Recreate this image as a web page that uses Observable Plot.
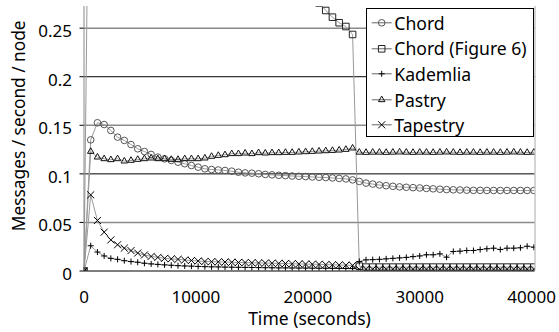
<!DOCTYPE html>
<html><head><meta charset="utf-8">
<script src="https://cdn.jsdelivr.net/npm/d3@7"></script>
<script src="https://cdn.jsdelivr.net/npm/@observablehq/plot@0.6"></script>
<style>
body{margin:0;background:#fff;}
#wrap{position:relative;width:559px;height:332px;font-family:"Noto Sans",sans-serif;}
#legend{position:absolute;left:366px;top:8px;width:168px;height:129px;border:1px solid #000;background:#fff;box-sizing:border-box;padding-top:1px;}
#legend .row{display:flex;align-items:center;height:25.6px;}
#legend span{font-size:17.6px;line-height:20px;margin-left:1.3px;color:#000;white-space:nowrap;}
#legend svg{display:block;}
</style></head><body><div id="wrap"></div><script>
const times = [0,600,1200,1800,2400,3000,3600,4200,4800,5400,
 6000,6600,7200,7800,8400,9000,9600,10200,10800,11400,
 12000,12600,13200,13800,14400,15000,15600,16200,16800,17400,
 18000,18600,19200,19800,20400,21000,21600,22200,22800,23400,
 24000,24600,25200,25800,26400,27000,27600,28200,28800,29400,
 30000,30600,31200,31800,32400,33000,33600,34200,34800,35400,
 36000,36600,37200,37800,38400,39000,39600,40200];

const chord = [0,0.135,0.1526,0.1508,0.1447,0.1378,0.1344,0.1302,0.1258,0.123,
 0.12,0.1172,0.1155,0.1138,0.112,0.1104,0.1086,0.1069,0.1052,0.1045,
 0.104,0.1035,0.1028,0.1017,0.101,0.1007,0.1001,0.0994,0.099,0.0985,
 0.0982,0.0978,0.0975,0.0972,0.0968,0.0965,0.0962,0.0958,0.0953,0.0948,
 0.0938,0.0922,0.0905,0.0895,0.0885,0.0878,0.0872,0.0866,0.0862,0.0858,
 0.0855,0.085,0.0846,0.0842,0.0838,0.0836,0.0834,0.0832,0.083,0.083,
 0.0829,0.0829,0.0829,0.0829,0.0829,0.0829,0.0829,0.0829];

const chordFig6 = [0,0.62,0.6,0.58,0.56,0.54,0.52,0.5,0.48,0.47,
 0.46,0.45,0.44,0.43,0.42,0.41,0.4,0.39,0.38,0.37,
 0.36,0.35,0.345,0.34,0.335,0.33,0.325,0.32,0.315,0.31,
 0.305,0.3,0.295,0.29,0.285,0.276,0.2682,0.2613,0.2556,0.2517,
 0.2435,0.005,0.004,0.004,0.004,0.004,0.004,0.004,0.004,0.004,
 0.004,0.004,0.004,0.004,0.004,0.004,0.004,0.004,0.004,0.004,
 0.004,0.004,0.004,0.004,0.004,0.004,0.004,0.004];

const kademlia = [0,0.026,0.0195,0.0155,0.013,0.012,0.0106,0.0097,0.009,0.008,
 0.0073,0.0068,0.0063,0.0059,0.0055,0.0052,0.005,0.0047,0.0045,0.0043,
 0.0042,0.004,0.0039,0.0038,0.0037,0.0036,0.0035,0.0034,0.0033,0.0032,
 0.0032,0.0031,0.003,0.003,0.0029,0.0028,0.0028,0.0027,0.0027,0.0026,
 0.0025,0.0098,0.0115,0.0117,0.012,0.0125,0.013,0.0135,0.014,0.0148,
 0.0155,0.0167,0.0167,0.0177,0.0142,0.0201,0.0204,0.0211,0.0211,0.0221,
 0.0229,0.0235,0.0221,0.0235,0.0235,0.0239,0.0255,0.0245];

const pastry = [0,0.123,0.1172,0.1155,0.1145,0.1155,0.1131,0.1138,0.1148,0.1155,
 0.1162,0.1155,0.1155,0.1148,0.1148,0.1155,0.1155,0.1155,0.1162,0.1179,
 0.1189,0.1196,0.1207,0.1207,0.1213,0.1207,0.1217,0.1213,0.1217,0.1217,
 0.122,0.122,0.1224,0.1227,0.123,0.1234,0.1237,0.124,0.1244,0.1251,
 0.1265,0.1222,0.122,0.1222,0.1222,0.122,0.1222,0.1224,0.1222,0.122,
 0.1222,0.1222,0.122,0.1222,0.1224,0.1222,0.122,0.1222,0.1222,0.122,
 0.1222,0.1222,0.122,0.1222,0.1224,0.1222,0.122,0.1222];

const tapestry = [0,0.0784,0.052,0.04,0.032,0.027,0.0235,0.021,0.0185,0.0165,
 0.015,0.014,0.013,0.0125,0.012,0.0113,0.0108,0.0103,0.0098,0.0096,
 0.0094,0.0092,0.009,0.0088,0.0087,0.0085,0.0083,0.0082,0.008,0.0078,
 0.0077,0.0075,0.0073,0.0071,0.007,0.0068,0.0066,0.0064,0.0062,0.006,
 0.0058,0.0018,0.0018,0.0018,0.0018,0.0018,0.0018,0.0018,0.0018,0.0018,
 0.0018,0.0018,0.0018,0.0018,0.0018,0.0018,0.0018,0.0018,0.0018,0.0018,
 0.0018,0.0018,0.0018,0.0018,0.0018,0.0018,0.0018,0.0018];

const seriesNames = ["Chord","Chord (Figure 6)","Kademlia","Pastry","Tapestry"];
const xTicks = [0,10000,20000,30000,40000];
const yTicks = [0,0.05,0.1,0.15,0.2,0.25];
const gridGray = [0.05,0.15,0.25];
const gridDark = [0.1,0.2];

const seriesValues = [chord, chordFig6, kademlia, pastry, tapestry];
const symbolNames = ["circle","square","plus","triangle","times"];
const d3Symbols = [d3.symbolCircle, d3.symbolSquare, d3.symbolPlus, d3.symbolTriangle, d3.symbolTimes];
const radii = [3.3, 3.7, 2.1, 2.4, 3.3];
const markerColors = ["#555","#222","#000","#111","#000"];
const xDomain = [0, 40300];
const yDomain = [0, 0.2723];
const font = "Noto Sans, sans-serif";

const rows = seriesNames.map((name, s) => times.map((t, i) => ({name, t, v: seriesValues[s][i]})));

const chart = Plot.plot({
  width: 559, height: 332,
  marginLeft: 83.5, marginRight: 24.5, marginTop: 6, marginBottom: 61.5,
  style: {fontFamily: font, fontSize: "17px", color: "#000", background: "#fff"},
  x: {domain: xDomain},
  y: {domain: yDomain},
  marks: [
    Plot.ruleY(gridGray, {stroke: "#8a8a8a", strokeWidth: 1.5}),
    Plot.ruleY(gridDark, {stroke: "#000", strokeWidth: 1}),
    Plot.ruleX([xDomain[1]], {stroke: "#aaa"}),
    ...rows.map(r => Plot.line(r, {x: "t", y: "v", stroke: "#999", strokeWidth: 1, clip: true})),
    ...rows.map((r, s) => Plot.dot(r, {x: "t", y: "v", symbol: symbolNames[s], r: radii[s], stroke: markerColors[s], fill: "none", strokeWidth: 1, clip: true})),
    Plot.ruleX([0], {stroke: "#888"}),
    Plot.ruleY([0], {stroke: "#000"}),
    Plot.axisY({ticks: yTicks, tickSize: 4, tickFormat: () => "", label: null}),
    Plot.axisY({ticks: yTicks, tickSize: 0, tickPadding: 12, dy: 3.5, tickFormat: d3.format("~g"), fontSize: 17, label: null}),
    Plot.axisX({ticks: xTicks, tickSize: 0, tickPadding: 20, tickFormat: d3.format("d"), fontSize: 17, label: null}),
    Plot.text(["Messages / second / node"], {frameAnchor: "left", rotate: -90, dx: -65, dy: -13, fontSize: 17.3, textAnchor: "middle", lineAnchor: "middle"}),
    Plot.text(["Time (seconds)"], {frameAnchor: "bottom", dy: 48.5, fontSize: 17.5, textAnchor: "middle", lineAnchor: "middle"})
  ]
});
const wrap = document.getElementById("wrap");
wrap.appendChild(chart);

const legend = d3.select(wrap).append("div").attr("id", "legend");
seriesNames.forEach((name, s) => {
  const row = legend.append("div").attr("class", "row");
  const svg = row.append("svg").attr("width", 26).attr("height", 25.6);
  svg.append("line").attr("x1", 4.7).attr("x2", 24.7).attr("y1", 12.8).attr("y2", 12.8).attr("stroke", "#666");
  svg.append("path").attr("transform", "translate(14.7,12.8)")
    .attr("d", d3.symbol(d3Symbols[s], Math.PI * radii[s] * radii[s])())
    .attr("fill", "none").attr("stroke", markerColors[s]);
  row.append("span").text(name);
});
</script></body></html>
